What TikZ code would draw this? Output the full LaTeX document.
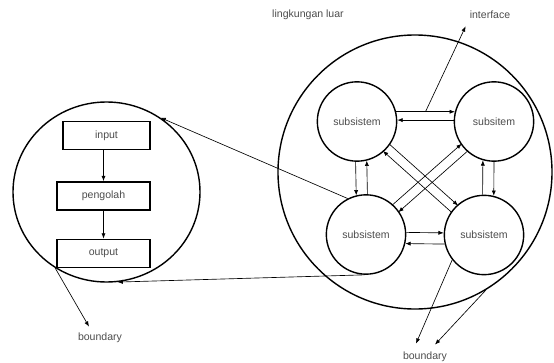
\documentclass[tikz,border=0pt]{standalone}
\usepackage{fontspec}
\setmainfont{Liberation Sans}
\usetikzlibrary{arrows.meta, calc, shapes.geometric}

\begin{document}
\begin{tikzpicture}[x=0.03cm, y=-0.03cm, >={Latex[length=4.5pt, width=3.5pt]},
  font=\fontsize{9}{11}\selectfont,
  lbl/.style={text=black!70},
  box/.style={draw, line width=1.6pt, minimum height=0.84cm, inner sep=0pt, text=black!70},
  sub/.style={circle, draw, line width=1.2pt, minimum size=2.38cm, inner sep=0pt, text=black!70},
  link/.style={->, line width=0.55pt}]

  \useasboundingbox (0,0) rectangle (554,363);

  % left system
  \node[ellipse, draw, line width=1.2pt, minimum width=5.61cm, minimum height=5.4cm] (ls) at (106.5,192) {};

  \node[box, minimum width=2.61cm] (inp) at (106.5,135.5) {input};
  \node[box, minimum width=2.79cm] (peng) at (103.5,196) {pengolah};
  \node[box, minimum width=2.79cm] (outp) at (103.5,253.5) {output};

  \draw[link] (inp.south -| peng.north) -- (peng.north);
  \draw[link] (peng) -- (outp);

  % right system
  \node[circle, draw, line width=1.2pt, minimum size=8.22cm] (env) at (415,172) {};

  \node[sub] (tl) at (357,121.5) {subsistem};
  \node[sub] (tr) at (494,121.5) {subsitem};
  \node[sub] (bl) at (366,234.5) {subsistem};
  \node[sub] (br) at (484,235) {subsistem};

  \draw[link] (tl.14) -- coordinate (ifc) (tr.166);
  \draw[link] (tr.178) -- (tl.2);
  \draw[link] (bl.3) -- (br.177);
  \draw[link] (br.193) -- (bl.-13);

  \draw[link] (tl.-92) -- (bl.104);
  \draw[link] (bl.88) -- (tl.-76);
  \draw[link] (br.92) -- (tr.-106);
  \draw[link] (tr.-90) -- (br.76);

  \draw[link, shorten <=1.17cm, shorten >=1.17cm] ($(tl)!4pt!90:(br)$) -- ($(br)!4pt!-90:(tl)$);
  \draw[link, shorten <=1.17cm, shorten >=1.17cm] ($(br)!4pt!90:(tl)$) -- ($(tl)!4pt!-90:(br)$);
  \draw[link, shorten <=1.17cm, shorten >=1.17cm] ($(bl)!4pt!90:(tr)$) -- ($(tr)!4pt!-90:(bl)$);
  \draw[link, shorten <=1.17cm, shorten >=1.17cm] ($(tr)!4pt!90:(bl)$) -- ($(bl)!4pt!-90:(tr)$);

  % labels
  \node[lbl] (luar) at (308,15) {lingkungan luar};
  \node[lbl] (iface) at (490,15) {interface};
  \node[lbl] (bnd) at (425,357) {boundary};
  \node[lbl] (lbnd) at (100,338) {boundary};

  \draw[link] (ifc) -- ([shift={(0cm,-0.1cm)}]iface.south west);

  \draw[link] (bl.117) -- (ls.54);
  \draw[link] (bl.-92) -- (ls.-83);

  \draw[link] (ls.-124) -- ([xshift=-0.33cm, yshift=0.07cm]lbnd.north);
  \draw[link] (br.218) -- ([xshift=-0.27cm, yshift=0.13cm]bnd.north);
  \draw[link] (env.-59) -- ([xshift=0.3cm, yshift=0.1cm]bnd.north);

\end{tikzpicture}
\end{document}
